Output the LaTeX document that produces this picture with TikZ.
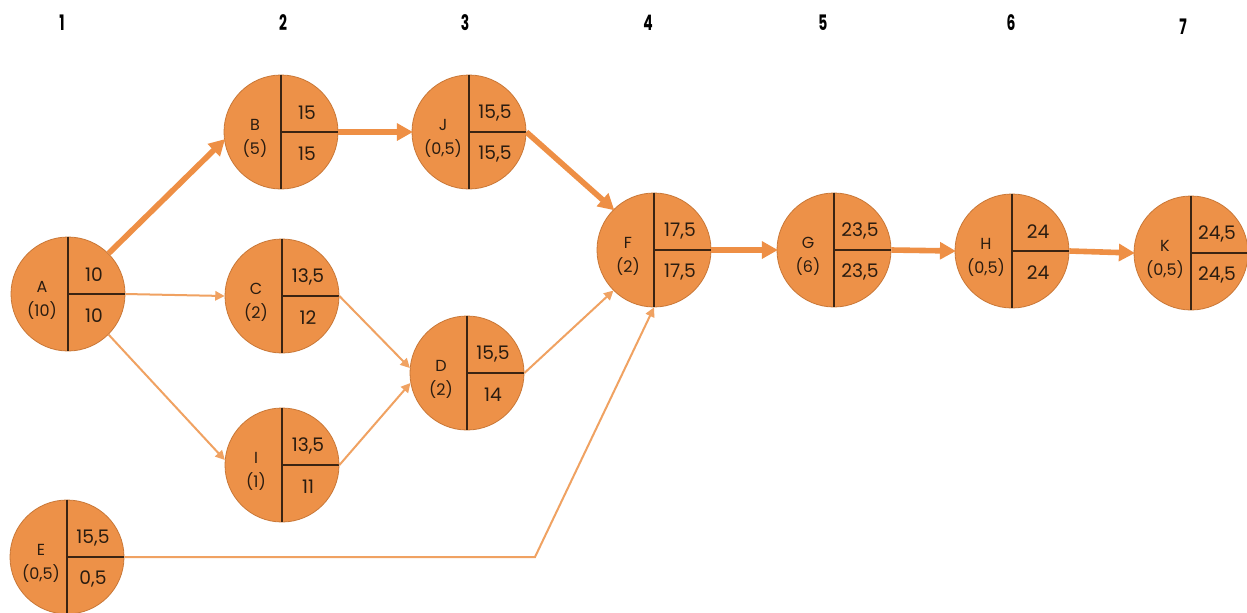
\documentclass[tikz,border=0pt]{standalone}
\usepackage{fontspec}
\setmainfont{Poppins}
\usetikzlibrary{arrows.meta,calc}
\definecolor{nodefill}{HTML}{ED9148}
\definecolor{nodeedge}{HTML}{C97838}
\definecolor{divline}{HTML}{3B2412}
\definecolor{arrthick}{HTML}{EE8F45}
\definecolor{arrthin}{HTML}{F0A262}
\definecolor{txt}{HTML}{2A1C10}
\tikzset{
  evt/.style={circle,fill=nodefill,draw=nodeedge,line width=0.6pt,minimum size=85.5pt,inner sep=0pt},
  divl/.style={draw=divline,line width=1pt},
  lbl/.style={text=txt,font=\fontsize{12}{14}\selectfont,inner sep=0pt},
  num/.style={text=txt,font=\fontsize{14}{16}\selectfont,inner sep=0pt},
  colnum/.style={text=black,font=\fontsize{16}{18}\selectfont\bfseries,xscale=0.65,inner sep=0pt},
  crit/.style={draw=arrthick,line width=4.2pt,-{Triangle[length=12pt,width=12.5pt]},shorten >=-1pt},
  thin/.style={draw=arrthin,line width=1.5pt,-{Triangle[length=7pt,width=7pt]}}
}
\newcommand\pertnode[7]{%
  \node[evt] (#1) at (#2,#3) {};
  \draw[divl] (#1.north) -- (#1.south);
  \draw[divl] (#1.center) -- (#1.east);
  \node[lbl] (#1-name) at ($(#1)+(-26,-7)$) {#4};
  \node[lbl] (#1-dur) at ($(#1)+(-26,17)$) {#5};
  \node[num] (#1-top) at ($(#1)+(26,-19)$) {#6};
  \node[num] (#1-bot) at ($(#1)+(26,22)$) {#7};
}
\begin{document}
\begin{tikzpicture}[x=0.75pt,y=-0.75pt]
\useasboundingbox (0,0) rectangle (1247,612);
\fill[white] (0,0) rectangle (1247,612);
% column numbers
\node[colnum] (c1) at (62,23) {1};
\node[colnum] (c2) at (283,23) {2};
\node[colnum] (c3) at (465,23) {3};
\node[colnum] (c4) at (648,23) {4};
\node[colnum] (c5) at (823,23) {5};
\node[colnum] (c6) at (1011,23) {6};
\node[colnum] (c7) at (1183,27) {7};
% nodes
\pertnode{A}{68}{294}{A}{(10)}{10}{10}
\pertnode{B}{281}{132}{B}{(5)}{15}{15}
\pertnode{C}{282}{296}{C}{(2)}{13,5}{12}
\pertnode{I}{282}{465}{I}{(1)}{13,5}{11}
\pertnode{E}{67}{557}{E}{(0,5)}{15,5}{0,5}
\pertnode{J}{469}{132}{J}{(0,5)}{15,5}{15,5}
\pertnode{D}{467}{373}{D}{(2)}{15,5}{14}
\pertnode{F}{654}{250}{F}{(2)}{17,5}{17,5}
\pertnode{G}{834}{250}{G}{(6)}{23,5}{23,5}
\pertnode{H}{1012}{251}{H}{(0,5)}{24}{24}
\pertnode{K}{1191}{253}{K}{(0,5)}{24,5}{24,5}
% connectors
\coordinate (bend) at (535,557);
\draw[crit] (A.45) -- (B.188);
\draw[crit] (B.east) -- (J.west);
\draw[crit] (J.east) -- (F.135);
\draw[crit] (F.east) -- (G.west);
\draw[crit] (G.east) -- (H.west);
\draw[crit] (H.east) -- (K.west);
\draw[thin] (A.east) -- (C.west);
\draw[thin] (A.-45) -- (I.175);
\draw[thin] (C.east) -- (D.175);
\draw[thin] (I.east) -- (D.190);
\draw[thin] (D.east) -- (F.225);
\draw[thin] (E.east) -- (bend) -- (F.south);
\end{tikzpicture}
\end{document}
